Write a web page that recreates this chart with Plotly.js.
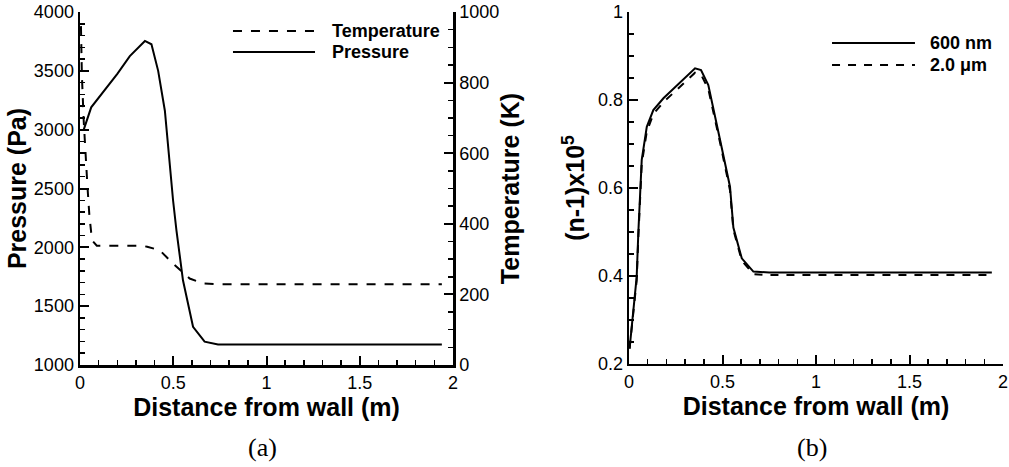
<!DOCTYPE html>
<html><head><meta charset="utf-8">
<script src="https://cdn.plot.ly/plotly-3.0.1.min.js"></script>
<style>html,body{margin:0;padding:0;background:#fff}#chart{width:1009px;height:467px}</style>
</head><body><div id="chart"></div>
<script>
// Panel (a)
const pressureX = [0.02, 0.06, 0.2, 0.267, 0.348, 0.383, 0.419, 0.455, 0.499, 0.517, 0.552, 0.606, 0.668, 0.74, 1.94];
const pressurePa = [3000, 3190, 3475, 3625, 3754, 3726, 3500, 3161, 2398, 2144, 1720, 1325, 1198, 1175, 1175];
const tempX = [0.005, 0.01, 0.02, 0.03, 0.04, 0.05, 0.06, 0.07, 0.09, 0.2, 0.33, 0.36, 0.428, 0.499, 0.588, 0.66, 0.75, 1.94];
const tempK = [960, 820, 690, 580, 505, 425, 375, 350, 338, 338, 338, 335, 325, 287, 245, 231, 229, 229];
// Panel (b)
const nX = [0.003, 0.041, 0.05, 0.059, 0.068, 0.095, 0.13, 0.184, 0.27, 0.353, 0.385, 0.424, 0.487, 0.54, 0.558, 0.603, 0.665, 0.75, 1.94];
const n600nm = [0.235, 0.398, 0.5, 0.573, 0.664, 0.739, 0.777, 0.804, 0.838, 0.872, 0.868, 0.834, 0.709, 0.603, 0.51, 0.44, 0.41, 0.408, 0.408];
const n2um = [0.235, 0.39, 0.49, 0.565, 0.655, 0.728, 0.768, 0.795, 0.828, 0.862, 0.858, 0.825, 0.703, 0.595, 0.505, 0.435, 0.404, 0.402, 0.402];

const seriesNamesA = ['Temperature', 'Pressure'];
const seriesNamesB = ['600 nm', '2.0 \u03bcm'];
const xTitle = 'Distance from wall (m)';

const FONT = '"Liberation Sans", Arial, Helvetica, sans-serif';
const SERIF = '"Liberation Serif", "Times New Roman", serif';
const tickFont = {family: FONT, size: 18, color: '#000'};
const titleFont = {family: FONT, size: 25, color: '#000', weight: 700};
const legendFont = {family: FONT, size: 18, color: '#000', weight: 700};

function axisBase(extra) {
  return Object.assign({
    showline: true, linewidth: 2.5, linecolor: '#000',
    ticks: 'inside', ticklen: 9, tickwidth: 2, tickcolor: '#000',
    showgrid: false, zeroline: false, tickfont: tickFont,
    fixedrange: true
  }, extra);
}

const traces = [
  {x: tempX, y: tempK, xaxis: 'x', yaxis: 'y2', mode: 'lines', name: seriesNamesA[0],
   line: {color: '#000', width: 2, dash: '9px,9px'}, showlegend: false},
  {x: pressureX, y: pressurePa, xaxis: 'x', yaxis: 'y', mode: 'lines', name: seriesNamesA[1],
   line: {color: '#000', width: 2}, showlegend: false},
  {x: nX, y: n600nm, xaxis: 'x2', yaxis: 'y3', mode: 'lines', name: seriesNamesB[0],
   line: {color: '#000', width: 2}, showlegend: false},
  {x: nX, y: n2um, xaxis: 'x2', yaxis: 'y3', mode: 'lines', name: seriesNamesB[1],
   line: {color: '#000', width: 2, dash: '8px,8px'}, showlegend: false}
];

const minorTick = (d) => ({dtick: d, ticks: 'inside', ticklen: 5, tickwidth: 1.5, tickcolor: '#000', showgrid: false});

const layout = {
  width: 1009, height: 467,
  margin: {l: 0, r: 0, t: 0, b: 0},
  paper_bgcolor: '#fff', plot_bgcolor: 'rgba(0,0,0,0)',
  showlegend: false,
  xaxis: axisBase({domain: [0.0793, 0.449], range: [0, 2], dtick: 0.5, tick0: 0,
    minor: minorTick(0.1), anchor: 'y',
    title: {text: xTitle, font: titleFont, standoff: 0}}),
  yaxis: axisBase({domain: [0.2184, 0.9743], range: [1000, 4000], dtick: 500, tick0: 1000,
    minor: minorTick(100), anchor: 'x',
    title: {text: 'Pressure (Pa)', font: titleFont, standoff: 0}}),
  yaxis2: axisBase({domain: [0.2184, 0.9743], range: [0, 1000], dtick: 200, tick0: 0,
    minor: minorTick(50), overlaying: 'y', side: 'right', anchor: 'x',
    title: {text: 'Temperature (K)', font: titleFont, standoff: 4}}),
  xaxis2: axisBase({domain: [0.6234, 0.9941], range: [0, 2], dtick: 0.5, tick0: 0,
    minor: minorTick(0.1), anchor: 'y3',
    title: {text: xTitle, font: titleFont, standoff: 0}}),
  yaxis3: axisBase({domain: [0.2206, 0.9743], range: [0.2, 1], dtick: 0.2, tick0: 0.2,
    minor: minorTick(0.05), anchor: 'x2',
    title: {text: '(n-1)x10<sup>5</sup>', font: titleFont, standoff: 6}}),
  shapes: [
    {type: 'line', xref: 'paper', yref: 'paper', x0: 0.2309, x1: 0.3122, y0: 0.9336, y1: 0.9336,
     line: {color: '#000', width: 2, dash: '9px,9px'}},
    {type: 'line', xref: 'paper', yref: 'paper', x0: 0.2309, x1: 0.3122, y0: 0.8887, y1: 0.8887,
     line: {color: '#000', width: 2}},
    {type: 'line', xref: 'paper', yref: 'paper', x0: 0.8246, x1: 0.9068, y0: 0.9079, y1: 0.9079,
     line: {color: '#000', width: 2}},
    {type: 'line', xref: 'paper', yref: 'paper', x0: 0.8246, x1: 0.9068, y0: 0.8608, y1: 0.8608,
     line: {color: '#000', width: 2, dash: '8px,8px'}}
  ],
  annotations: [
    {xref: 'paper', yref: 'paper', x: 0.3271, y: 0.9336, xanchor: 'left', yanchor: 'middle', showarrow: false,
     text: seriesNamesA[0], font: legendFont},
    {xref: 'paper', yref: 'paper', x: 0.3271, y: 0.8887, xanchor: 'left', yanchor: 'middle', showarrow: false,
     text: seriesNamesA[1], font: legendFont},
    {xref: 'paper', yref: 'paper', x: 0.9197, y: 0.9079, xanchor: 'left', yanchor: 'middle', showarrow: false,
     text: seriesNamesB[0], font: legendFont},
    {xref: 'paper', yref: 'paper', x: 0.9197, y: 0.8608, xanchor: 'left', yanchor: 'middle', showarrow: false,
     text: seriesNamesB[1], font: legendFont},
    {xref: 'paper', yref: 'paper', x: 0.2597, y: 0.0407, xanchor: 'center', yanchor: 'middle', showarrow: false,
     text: '(a)', font: {family: SERIF, size: 26, color: '#000'}},
    {xref: 'paper', yref: 'paper', x: 0.8048, y: 0.0407, xanchor: 'center', yanchor: 'middle', showarrow: false,
     text: '(b)', font: {family: SERIF, size: 26, color: '#000'}}
  ]
};

Plotly.newPlot('chart', traces, layout, {displayModeBar: false, staticPlot: true});
</script>
</body></html>
